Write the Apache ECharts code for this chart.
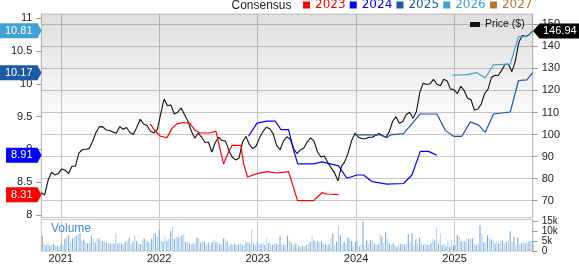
<!DOCTYPE html>
<html><head><meta charset="utf-8">
<script src="https://cdn.jsdelivr.net/npm/echarts@6/dist/echarts.min.js"></script>
<style>html,body{margin:0;padding:0;background:#fff}#c{width:579px;height:264px}</style>
</head><body><div id="c"></div>
<script>
const yearTicks = [2021, 2022, 2023, 2024, 2025];
const leftTicks = [8, 8.5, 9, 9.5, 10, 10.5, 11];
const rightTicks = [70, 80, 90, 100, 110, 120, 130, 140, 150];
const volTicks = [0, 5, 10, 15];

const priceStart = 2020.802;     // decimal year of first price sample
const priceStep = 0.034644;      // years between samples
const price = [
73.6,72.6,79.3,82.9,81.7,82.3,84.4,83.8,82.3,85.6,
85.6,91.6,93.1,93.3,93.6,96.7,100.8,103.5,103.6,102.1,
101.8,101.1,100.6,103.6,102.4,103.2,100.9,100.0,103.3,106.9,
104.8,104.1,101.5,100.8,102.1,109.3,116.1,113.1,113.4,109.3,
110.1,112.0,109.0,106.0,101.5,98.4,100.6,98.8,96.4,96.6,
92.1,96.4,98.7,97.3,97.0,92.8,89.7,88.5,89.4,96.6,
99.1,95.5,93.6,94.8,98.5,101.4,103.3,102.6,100.3,95.1,
93.1,97.0,99.0,97.8,93.7,91.3,93.1,93.9,96.7,98.5,
96.9,92.1,89.8,90.3,87.3,84.9,82.6,79.0,85.6,87.7,
91.8,97.3,100.6,98.8,98.1,98.1,98.8,98.8,99.6,100.5,
99.6,98.8,101.1,105.9,108.1,105.1,105.9,109.0,110.1,107.4,
110.5,119.1,123.3,122.7,123.0,125.0,122.8,122.1,125.1,124.3,
120.6,120.4,118.5,121.9,119.9,116.5,115.8,111.1,111.6,113.8,
118.6,120.6,125.9,126.9,126.8,129.2,131.9,131.9,128.5,133.3,
141.6,144.9,144.6,145.1,146.94];

const volStart = 2020.812;
const volStep = 7 / 365.25;
const volume = [
7.7,3.5,3.1,4.3,2.8,3.1,3.4,2.8,2.6,2.2,
3.7,3.1,6.2,7.7,8.0,4.3,6.5,6.9,7.7,8.5,
9.2,4.9,5.8,4.3,3.8,4.0,7.7,6.5,4.3,6.2,
6.5,5.4,4.9,4.6,4.2,4.3,3.7,3.5,3.7,8.9,
3.8,4.3,3.8,3.4,4.6,5.4,6.5,3.4,4.6,7.7,
4.9,3.8,3.4,5.4,6.5,5.5,4.6,3.8,6.2,9.2,
8.9,7.4,10.8,5.4,4.6,7.4,4.9,6.2,10.0,12.3,
6.2,7.4,6.9,7.4,7.7,8.5,4.6,4.3,3.8,3.5,
3.7,4.3,6.9,6.2,4.3,4.9,4.6,3.1,4.3,3.1,
4.6,5.8,4.3,4.9,3.4,3.8,6.5,6.2,4.6,3.1,
3.4,3.1,3.7,3.1,3.4,3.8,3.1,3.5,4.3,4.9,
3.8,11.1,3.8,3.1,4.6,3.5,3.4,4.3,3.1,6.9,
4.0,3.7,3.1,3.8,3.7,3.1,7.4,3.4,3.1,3.7,
7.7,
5.4,4.3,2.8,4.0,3.8,2.6,2.3,2.6,2.5,3.1,
3.5,4.6,7.7,5.4,4.6,4.9,4.3,4.9,3.8,3.5,
3.1,3.4,6.5,8.9,3.1,4.6,12.6,8.0,3.1,4.6,
3.4,6.9,6.2,5.1,2.3,4.6,5.4,2.3,3.4,15.4,
3.1,5.4,3.8,5.4,5.4,3.8,3.1,3.4,8.5,7.4,
3.8,9.5,6.2,3.8,3.1,3.8,3.1,2.3,3.8,3.5,
3.7,3.1,3.8,8.5,4.3,9.2,3.1,5.8,3.8,6.9,
4.3,3.1,3.4,3.1,3.1,3.8,6.5,5.4,12.0,3.8,
9.2,3.1,3.8,2.3,4.9,2.3,5.8,2.8,3.1,8.0,
7.4,4.9,5.2,4.9,6.2,6.2,6.2,6.5,3.8,3.1,
3.8,13.1,8.9,4.3,4.3,8.0,6.5,5.8,5.4,3.8,
4.9,3.8,5.4,5.4,3.8,4.6,5.8,10.0,4.6,7.4,
3.1,6.9,3.4,3.8,4.3,3.8,4.3,4.9,5.4,4.9];

const cons2023 = [[2021.909,9.39],[2021.960,9.28],[2022.011,9.20],[2022.079,9.18],[2022.130,9.32],[2022.180,9.39],[2022.247,9.41],[2022.308,9.40],[2022.366,9.29],[2022.417,9.25],[2022.519,9.25],[2022.576,9.28],[2022.620,8.99],[2022.654,8.78],[2022.704,8.96],[2022.739,9.06],[2022.830,9.06],[2022.857,8.78],[2022.897,8.58],[2022.993,8.63],[2023.094,8.66],[2023.196,8.64],[2023.314,8.66],[2023.405,8.22],[2023.568,8.22],[2023.653,8.34],[2023.704,8.32],[2023.822,8.31]];
const cons2024 = [[2022.908,9.20],[2022.993,9.40],[2023.094,9.43],[2023.179,9.43],[2023.237,9.30],[2023.314,9.30],[2023.365,8.99],[2023.407,8.78],[2023.568,8.78],[2023.653,8.81],[2023.822,8.75],[2023.907,8.56],[2024.009,8.61],[2024.076,8.61],[2024.161,8.51],[2024.313,8.47],[2024.482,8.48],[2024.567,8.61],[2024.652,8.97],[2024.736,8.97],[2024.821,8.91]];
const cons2025 = [[2023.991,9.22],[2024.144,9.22],[2024.245,9.22],[2024.313,9.18],[2024.347,9.22],[2024.482,9.24],[2024.652,9.54],[2024.821,9.54],[2024.906,9.29],[2024.990,9.20],[2025.075,9.20],[2025.160,9.42],[2025.244,9.37],[2025.312,9.26],[2025.396,9.54],[2025.566,9.57],[2025.650,10.05],[2025.735,10.06],[2025.794,10.17]];
const cons2026 = [[2024.977,10.13],[2025.126,10.14],[2025.228,10.17],[2025.312,10.09],[2025.396,10.29],[2025.566,10.30],[2025.650,10.72],[2025.735,10.72],[2025.794,10.81]];
const cons2027 = [];

const colors = {'2023':'#ff0000','2024':'#0000ff','2025':'#1c5aa8','2026':'#3fa2d2','2027':'#b07c2c'};
const X_MIN = 2020.802, X_MAX = 2025.794;
const G0 = {left:41.3, top:14, width:491.4, height:203.5};
const G1 = {left:41.3, top:219.5, width:491.4, height:34.5};

// background shading bands (styling only)
const shadeEdges = [154.67,150,146,142,138,134,130,126,122,118,114,110,106,102];
const shadeBands = shadeEdges.slice(0,-1).map((top,k)=>[
  {xAxis:X_MIN, yAxis:top, itemStyle:{color:'rgba(0,0,0,' + (0.12*(1 - k/(shadeEdges.length-1))).toFixed(3) + ')', borderWidth:0}},
  {xAxis:X_MAX, yAxis:shadeEdges[k+1]}
]);

const chart = echarts.init(document.getElementById('c'), null, {renderer:'canvas'});
const lblFont = 'Liberation Sans, Arial, sans-serif';

const priceData = price.map((v,i)=>[priceStart + i*priceStep, v]);
const volData = volume.map((v,i)=>[volStart + i*volStep, v]);

const consLine = (name, data) => ({
  name, type:'line', xAxisIndex:0, yAxisIndex:0, data, symbol:'none', z:4,
  lineStyle:{color:colors[name], width:1.2}, itemStyle:{color:colors[name]}
});

chart.setOption({
  animation:false,
  backgroundColor:'#ffffff',
  grid:[
    Object.assign({show:true, borderColor:'#c8c8c8', borderWidth:1, backgroundColor:'rgba(0,0,0,0)'}, G0),
    Object.assign({show:true, borderColor:'#c8c8c8', borderWidth:1, backgroundColor:'rgba(0,0,0,0)'}, G1)
  ],
  legend:[
    {data:['2023','2024','2025','2026','2027'].map(n=>({name:n, textStyle:{color:colors[n]}})),
     left:303, top:-1, padding:0, itemWidth:7, itemHeight:7, itemGap:4.2, icon:'rect', selectedMode:false,
     textStyle:{fontFamily:'DejaVu Sans', fontSize:12}},
    {data:['Price ($)'], left:470, top:19, padding:0, itemWidth:10, itemHeight:5, icon:'rect', selectedMode:false,
     textStyle:{fontFamily:lblFont, fontSize:10.5, color:'#111'}}
  ],
  xAxis:[
    {type:'value', gridIndex:0, min:X_MIN, max:X_MAX,
     axisLabel:{show:false}, axisLine:{show:false},
     axisTick:{show:false, customValues:yearTicks},
     splitLine:{show:true, lineStyle:{color:'#c8c8c8', width:1}}},
    {type:'value', gridIndex:1, min:X_MIN, max:X_MAX,
     axisLine:{show:false},
     axisTick:{show:false, customValues:yearTicks},
     axisLabel:{customValues:yearTicks, formatter:v=>String(Math.round(v)), fontFamily:lblFont, fontSize:11, color:'#222', margin:2},
     splitLine:{show:true, lineStyle:{color:'#c8c8c8', width:1}}}
  ],
  yAxis:[
    {type:'value', gridIndex:0, position:'left', min:7.962, max:11.064,
     axisLine:{show:true, lineStyle:{color:'#bbbbbb'}},
     axisTick:{show:true, length:5, customValues:leftTicks, lineStyle:{color:'#999'}},
     axisLabel:{customValues:leftTicks, formatter:v=>String(v), fontFamily:lblFont, fontSize:11, color:'#222', margin:9},
     splitLine:{show:false}},
    {type:'value', gridIndex:0, position:'right', min:62.38, max:154.67,
     axisLine:{show:true, lineStyle:{color:'#bbbbbb'}},
     axisTick:{show:true, length:5, customValues:rightTicks, lineStyle:{color:'#999'}},
     axisLabel:{customValues:rightTicks, formatter:v=>String(v), fontFamily:lblFont, fontSize:11, color:'#222', margin:9},
     splitLine:{show:true, lineStyle:{color:'#c8c8c8', width:1}}},
    {type:'value', gridIndex:1, position:'right', min:0, max:16.03,
     axisLine:{show:true, lineStyle:{color:'#bbbbbb'}},
     axisTick:{show:true, length:5, customValues:volTicks, lineStyle:{color:'#999'}},
     axisLabel:{customValues:volTicks, formatter:v=>v===0?'0':v+'k', fontFamily:lblFont, fontSize:10, lineHeight:10, color:'#222', margin:9, hideOverlap:false, showMinLabel:true, showMaxLabel:true},
     splitLine:{show:false}}
  ],
  series:[
    {name:'Price ($)', type:'line', xAxisIndex:0, yAxisIndex:1, data:priceData, symbol:'none', z:3,
     lineStyle:{color:'#111', width:1.1}, itemStyle:{color:'#111'},
     markArea:{silent:true, label:{show:false}, emphasis:{disabled:true}, data:shadeBands}},
    consLine('2023', cons2023),
    consLine('2024', cons2024),
    consLine('2025', cons2025),
    consLine('2026', cons2026),
    consLine('2027', cons2027),
    {name:'Volume', type:'bar', xAxisIndex:1, yAxisIndex:2, data:volData, barWidth:1.1,
     itemStyle:{color:p=>p.dataIndex%2 ? '#b6d3ee' : '#74abdb'}}
  ]
});

// value tags drawn at the axis positions of the latest values
const ctx = document.createElement('canvas').getContext('2d');
ctx.font = '11px ' + lblFont;
const graphics = [
  {type:'text', left:231.5, top:0, z:100, style:{text:'Consensus', fill:'#222', font:'12px '+lblFont}},
  {type:'text', left:51, top:223, z:100, style:{text:'Volume', fill:'#3d8fd0', font:'12px '+lblFont}}
];
const leftTags = [[cons2026,'2026'],[cons2025,'2025'],[cons2024,'2024'],[cons2023,'2023']];
leftTags.forEach(([arr,name])=>{
  const v = arr[arr.length-1][1];
  const y = chart.convertToPixel({yAxisIndex:0}, v);
  const t = v.toFixed(2);
  const w = ctx.measureText(t).width;
  const x1 = 37.5, x0 = Math.max(0, x1 - w - 10), h = 7.5;
  graphics.push({type:'polygon', z:100, shape:{points:[[x0,y-h],[x1,y-h],[41.5,y],[x1,y+h],[x0,y+h]]}, style:{fill:colors[name]}});
  graphics.push({type:'text', z:101, x:(x0+x1)/2, y:y, style:{text:t, fill:'#fff', font:'11px '+lblFont, align:'center', verticalAlign:'middle', textAlign:'center', textVerticalAlign:'middle'}});
});
{
  const v = price[price.length-1];
  const y = chart.convertToPixel({yAxisIndex:1}, v);
  const h = 7.5;
  graphics.push({type:'polygon', z:100, shape:{points:[[533,y],[539.5,y-h],[579,y-h],[579,y+h],[539.5,y+h]]}, style:{fill:'#000'}});
  graphics.push({type:'text', z:101, x:543, y:y, style:{text:v.toFixed(2), fill:'#fff', font:'11px '+lblFont, align:'left', verticalAlign:'middle', textAlign:'left', textVerticalAlign:'middle'}});
}
chart.setOption({graphic:graphics});
</script></body></html>
